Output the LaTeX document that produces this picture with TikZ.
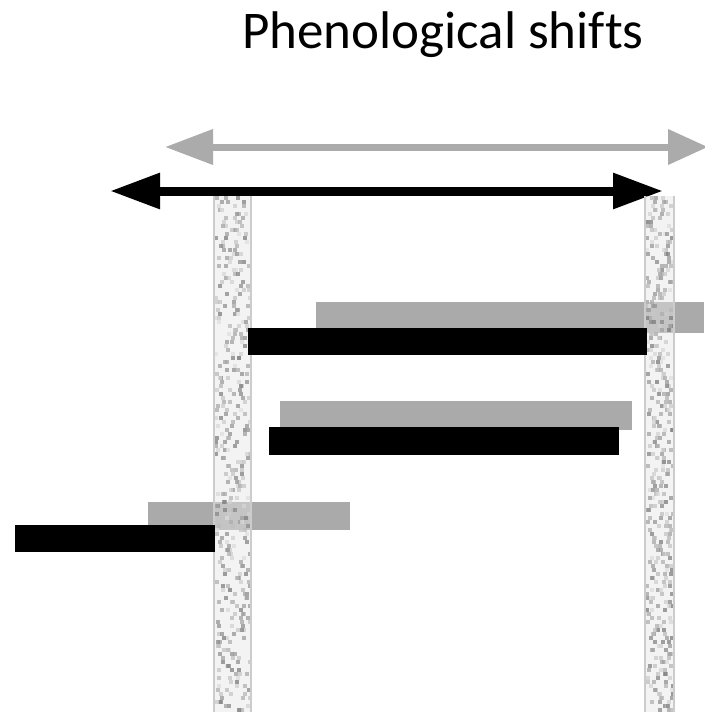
\documentclass[tikz,border=0pt]{standalone}
\usepackage{fontspec}
\setmainfont{Carlito}[Ligatures=NoCommon]
\usetikzlibrary{arrows.meta}
\definecolor{barGray}{HTML}{AAAAAA}
\definecolor{arrGray}{HTML}{ABABAB}
\tikzset{
  graybar/.style={fill=barGray},
  blackbar/.style={fill=black},
  stripbase/.style={fill=black!10, fill opacity=0.45},
  grayarrow/.style={draw=arrGray, line width=7pt, {Triangle[length=48pt,width=34pt]}-{Triangle[length=40pt,width=34pt]}},
  blackarrow/.style={draw=black, line width=9pt, {Triangle[length=50pt,width=34pt]}-{Triangle[length=50pt,width=34pt]}},
}
\begin{document}
\begin{tikzpicture}[x=1pt,y=-1pt]
\useasboundingbox (0,0) rectangle (704,712);
\node[anchor=base, font=\fontsize{53}{60}\selectfont, inner sep=0pt] (title) at (443,48) {Phenological shifts};
% arrows
\coordinate (gl) at (165,147);
\coordinate (gr) at (708,147);
\coordinate (bl) at (110,191);
\coordinate (br) at (663,191);
\draw[grayarrow] (gl) -- (gr);
\draw[blackarrow] (bl) -- (br);
% gray bars
\fill[graybar] (316,302) rectangle (704,333);
\fill[graybar] (280,401) rectangle (632,430);
\fill[graybar] (148,502) rectangle (350,530);
% strips
\fill[stripbase] (213,196) rectangle (252,712);
\fill[stripbase] (644,196) rectangle (675,712);
\pgfmathsetseed{11}
\foreach \yy in {196,200,...,708}{
  \foreach \k in {1,2,3}{
    \pgfmathsetmacro\xx{214+rnd*34}
    \pgfmathsetmacro\gg{12+rnd*40}
    \fill[black!\gg, fill opacity=0.75] (\xx,\yy) rectangle ++(4,4);
    \pgfmathsetmacro\xb{645+rnd*26}
    \pgfmathsetmacro\gb{12+rnd*40}
    \fill[black!\gb, fill opacity=0.75] (\xb,\yy) rectangle ++(4,4);
  }}
\draw[black!20, line width=2pt] (214,196) -- (214,712) (251,196) -- (251,712);
\draw[black!20, line width=2pt] (645,196) -- (645,712) (674,196) -- (674,712);
% black bars
\fill[blackbar] (248,328) rectangle (647,355);
\fill[blackbar] (269,427) rectangle (619,455);
\fill[blackbar] (15,525) rectangle (215,552);
\end{tikzpicture}
\end{document}
